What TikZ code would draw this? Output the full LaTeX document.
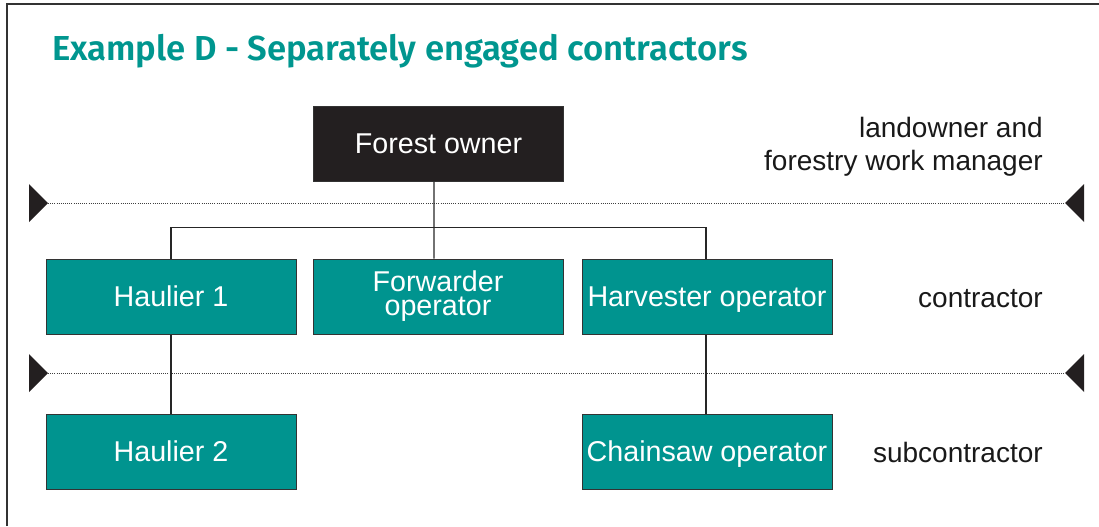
\documentclass[tikz,border=0pt]{standalone}
\usepackage{fontspec}
\setmainfont{Liberation Sans}
\newfontfamily\titlefont{Fira Sans SemiBold}
\definecolor{boxteal}{HTML}{00948F}
\definecolor{titleteal}{HTML}{00968F}
\definecolor{ownerblack}{HTML}{231F20}
\definecolor{edgegray}{HTML}{333333}
\begin{document}
\begin{tikzpicture}[x=0.75pt,y=-0.75pt,
  box/.style={draw=edgegray, line width=0.75pt, fill=boxteal, text=white,
    minimum width=187.5pt, minimum height=56.25pt, inner sep=0pt,
    font=\fontsize{21.5}{18}\selectfont, align=center},
  oneline/.style={text height=15.5pt, text depth=0pt},
  conn/.style={draw=black!85, line width=0.8pt},
  dotline/.style={draw=black!75, line width=0.6pt, densely dotted},
  tri/.style={fill=ownerblack},
  lab/.style={inner sep=0pt, align=right, text=black!90,
    font=\fontsize{21}{24.75}\selectfont},
  frame/.style={draw=edgegray, line width=1.5pt}]
\useasboundingbox (0,0) rectangle (1099,526);
\draw[frame] (7,526) -- (7,4) -- (1099,4);
\node[anchor=base west, inner sep=0pt, text=titleteal,
  font=\titlefont\fontsize{26}{30}\selectfont] (title) at (52,60)
  {Example D - Separately engaged contractors};
% boxes
\node[box, oneline, fill=ownerblack] (fo) at (438.5,143.5) {Forest owner};
\node[box, oneline] (h1) at (171,296.5) {Haulier 1};
\node[box] (fw) at (438,296.5) {Forwarder\\operator};
\node[box, oneline] (hv) at (707,296.5) {Harvester operator};
\node[box, oneline] (h2) at (171,451.5) {Haulier 2};
\node[box, oneline] (cs) at (707,451.5) {Chainsaw operator};
% separators
\coordinate (l1) at (48,203); \coordinate (r1) at (1065,203);
\coordinate (l2) at (48,373); \coordinate (r2) at (1065,373);
\draw[dotline] (l1) -- (r1);
\draw[dotline] (l2) -- (r2);
\fill[tri] (29,184) -- (l1) -- (29,222) -- cycle;
\fill[tri] (1084,184) -- (r1) -- (1084,222) -- cycle;
\fill[tri] (29,354) -- (l2) -- (29,392) -- cycle;
\fill[tri] (1084,354) -- (r2) -- (1084,392) -- cycle;
% connectors
\draw[conn] ([xshift=-3.4pt]fo.south) -- ([xshift=-3pt]fw.north);
\draw[conn] (h1.north) -- ++(0,-31) -| ([xshift=-0.75pt]hv.north);
\draw[conn] (h1.south) -- (h2.north);
\draw[conn] ([xshift=-0.75pt]hv.south) -- ([xshift=-0.75pt]cs.north);
% labels
\node[lab, anchor=base east] (lw) at (1043,170) {landowner and\\forestry work manager};
\node[lab, anchor=base east] (ct) at (1043,307) {contractor};
\node[lab, anchor=base east] (sc) at (1043,462) {subcontractor};
\end{tikzpicture}
\end{document}
